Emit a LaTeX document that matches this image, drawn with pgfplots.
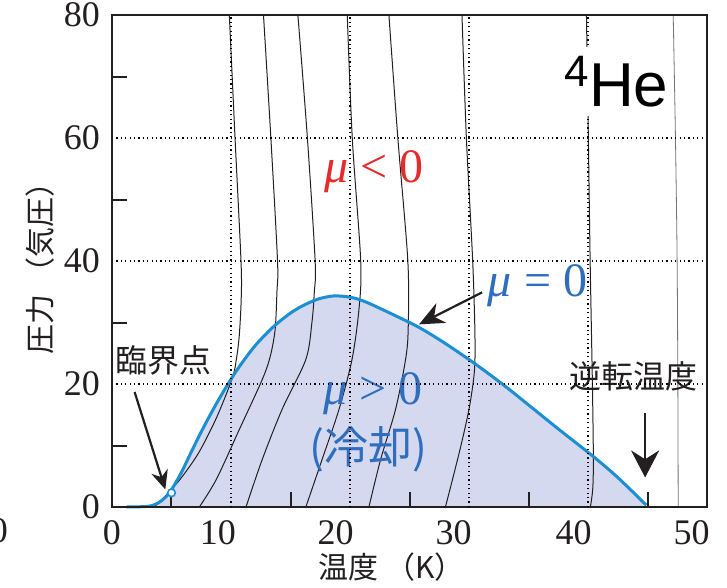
\documentclass[border=0pt]{standalone}
\usepackage{fontspec}
\setmainfont{Liberation Serif}
\newfontfamily\jp{Noto Sans CJK JP}
\newfontfamily\hel{Liberation Sans}
\usepackage{pgfplots}
\usepackage{pgfplotstable}
\pgfplotsset{compat=1.18}
\usetikzlibrary{arrows.meta}
\definecolor{curveblue}{HTML}{1B8FD2}
\definecolor{fillpurple}{HTML}{D5D9EF}
\definecolor{textblue}{HTML}{2F6DBE}
\definecolor{textred}{HTML}{E52B2B}
\definecolor{ink}{HTML}{231F20}

\pgfplotstableread{
T P
1.2 0
2.5 0.05
3.3 0.2
4.0 0.8
4.6 1.8
5.0 2.8
5.8 5.5
6.6 8.7
7.6 12.6
8.8 16.9
10.1 21.1
11.1 23.9
12.1 26.4
13.5 29.2
14.9 31.4
16.0 32.7
17.3 33.8
18.5 34.3
19.5 34.25
20.5 33.9
21.5 33.2
23.5 31.4
25.8 29.2
28.0 26.6
30.5 23.3
33.0 19.7
35.0 16.6
37.5 12.7
40.45 8.2
42.5 4.8
44.9 0.3
}\inversion

\begin{document}
\begin{tikzpicture}
\begin{axis}[
 scale only axis, width=595pt, height=492pt,
 xmin=0,xmax=50,ymin=0,ymax=80,
 axis on top,
 clip=false,
 tick pos=left,
 xtick={0,8.9,18.8,28.7,38.8,48.7},
 xticklabels={0,10,20,30,40,50},
 ytick={0,20,40,60,80},
 minor xtick={5,15,25,35,45},
 minor ytick={10,30,50,70},
 major tick length=0pt,
 minor tick length=15pt,
 every minor tick/.append style={line width=2pt,ink},
 extra x ticks={10,20,30,40},
 extra x tick labels={},
 extra x tick style={grid=major},
 ymajorgrids=true,
 major grid style={black, line width=1.1pt, dash pattern=on 1.2pt off 3.2pt},
 axis line style={line width=2.2pt, ink},
 /pgf/number format/assume math mode=true,
 tick label style={font=\fontsize{36}{40}\selectfont, inner sep=0pt, text=ink},
 yticklabel style={xshift=-12pt},
 xticklabel style={yshift=-13pt},
]
% cooling region
\addplot[fill=fillpurple, draw=none] table[x=T,y=P] {\inversion} \closedcycle;

% isenthalps
\addplot[ink, line width=1pt, smooth] coordinates {(9.86,80) (10.34,60) (10.84,40) (10.86,34) (10.7,28) (10.45,24) (10.1,20.9) (8.8,14.6) (7.34,9.0) (6.0,5.2) (4.97,2.8) (3.57,0)};
\addplot[ink, line width=1pt, smooth] coordinates {(12.73,80) (13.35,60) (13.91,40) (13.86,35) (13.71,28.9) (13.3,24.5) (12.62,20.7) (10.70,12.6) (8.77,4.5) (7.34,0)};
\addplot[ink, line width=1pt, smooth] coordinates {(15.62,80) (16.42,60) (17.07,40) (17.0,34.9) (16.8,30) (16.29,24.0) (14.30,15.9) (12.62,7.7) (11.26,0)};
\addplot[ink, line width=1pt, smooth] coordinates {(19.77,80) (20.19,60) (20.9,40) (20.75,32.1) (20.17,24.0) (19.08,15.9) (17.65,7.7) (16.29,0)};
\addplot[ink, line width=1pt, smooth] coordinates {(23.27,80) (24.02,60) (24.86,40) (24.89,29) (24.67,24) (23.83,15.9) (22.57,7.7) (21.59,0)};
\addplot[ink, line width=1pt, smooth] coordinates {(29.41,80) (29.78,60) (30.31,40) (30.5,28) (30.45,22) (30.0,15.9) (29.2,9) (28.02,0)};
\addplot[ink, line width=1pt, smooth] coordinates {(39.87,80) (40.03,60) (40.18,40) (40.37,20) (40.45,8) (40.4,3) (40.2,0)};
\addplot[black!55, line width=0.8pt, smooth] coordinates {(47.16,80) (47.35,60) (47.49,40) (47.55,20) (47.58,0)};

% inversion curve
\addplot[curveblue, line width=3pt, smooth] table[x=T,y=P] {\inversion};
% critical point
\addplot[curveblue, only marks, mark=*, mark size=3.8pt, mark options={fill=white, line width=1.6pt}] coordinates {(5.0,2.3)};

% texts
\node[text=textred, font=\fontsize{48}{50}\selectfont, anchor=base] at (axis cs:22.0,52.8) {\textit{μ}\hspace{0.25em}<\hspace{0.25em}0};
\node[text=textblue, font=\fontsize{48}{50}\selectfont, anchor=base] at (axis cs:35.76,34.2) {\textit{μ}\hspace{0.25em}=\hspace{0.25em}0};
\node[text=textblue, font=\fontsize{48}{50}\selectfont, anchor=base] at (axis cs:21.9,16.7) {\textit{μ}\hspace{0.25em}>\hspace{0.25em}0};
\node[text=textblue, font=\jp\fontsize{44}{46}\selectfont] at (axis cs:21.55,9.3) {(冷却)};
\node[text=ink, font=\jp\fontsize{32}{34}\selectfont] at (axis cs:4.33,23.8) {臨界点};
\node[text=ink, font=\jp\fontsize{32}{34}\selectfont] at (axis cs:43.8,21.2) {逆転温度};

% arrows
\draw[ink, line width=2.2pt, -{Stealth[length=19pt,width=17pt]}] (axis cs:1.9,18.7) -- (axis cs:4.48,2.85);
\draw[ink, line width=2.2pt, -{Stealth[length=25pt,width=22pt]}] (axis cs:31.1,34.9) -- (axis cs:25.8,29.7);
\draw[ink, line width=2.4pt, -{Stealth[length=27pt,width=28pt]}] (axis cs:44.8,15.3) -- (axis cs:44.8,4.8);

% axis labels
\node[text=ink, font=\jp\fontsize{30}{32}\selectfont] at (axis description cs:0.47,-0.122) {温度 （K）};
\node[text=ink, font=\jp\fontsize{30}{32}\selectfont, rotate=90] at (axis description cs:-0.121,0.5) {圧力 （気圧）};

\coordinate (he) at (axis cs:37.94,65.1);
\coordinate (sw) at (rel axis cs:0,0);
\end{axis}
\node[fill=white, inner xsep=1pt, inner ysep=9pt, anchor=base west, font=\hel\fontsize{62}{64}\selectfont] at (he) {\raisebox{20pt}{\fontsize{44}{44}\selectfont 4}He};
\node[anchor=east, inner sep=0pt, text=ink, font=\fontsize{36}{40}\selectfont] at ([shift={(-104pt,-24pt)}]sw) {0};
\pgfresetboundingbox
\path[use as bounding box] ([shift={(-112pt,-80pt)}]sw) rectangle ([shift={(615pt,507pt)}]sw);
\end{tikzpicture}
\end{document}
